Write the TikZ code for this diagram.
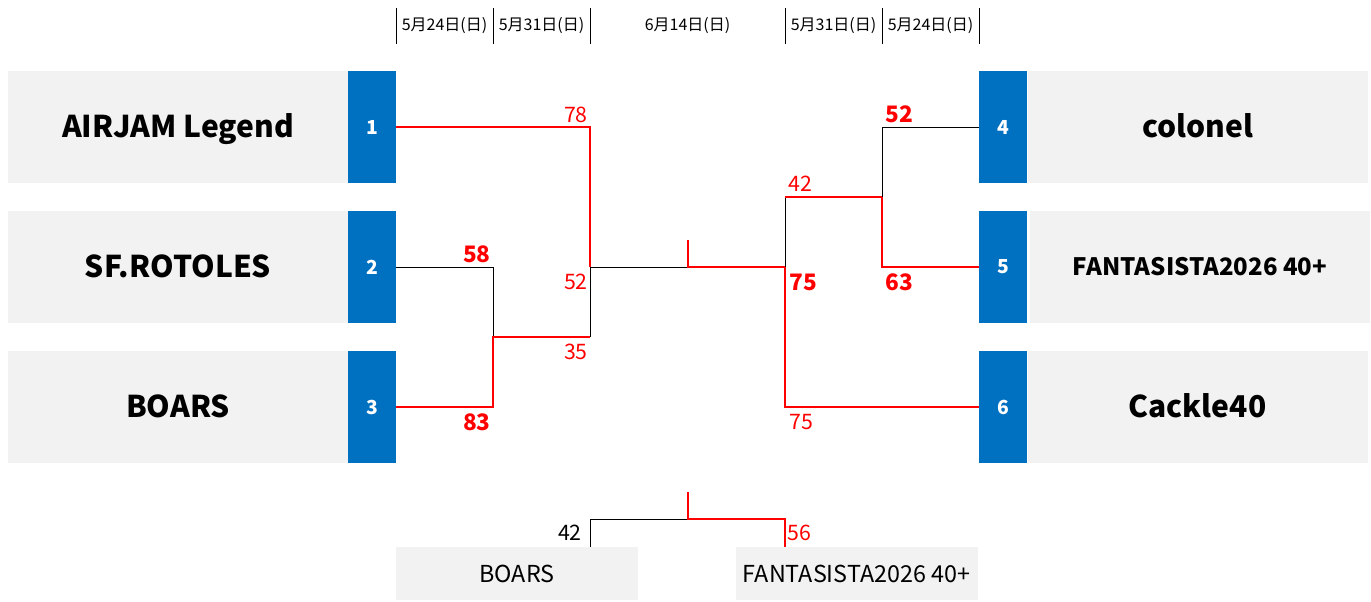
\documentclass[tikz,border=0pt]{standalone}
\usepackage{fontspec}
\setmainfont{Noto Sans CJK JP}
\usetikzlibrary{positioning,calc}
\definecolor{brgray}{HTML}{F2F2F2}
\definecolor{brblue}{HTML}{0070C0}
\definecolor{brred}{HTML}{FF0000}

\begin{document}
\begin{tikzpicture}[x=0.75pt, y=-0.75pt,
  teambox/.style={fill=brgray, minimum width=255pt, minimum height=84pt, inner sep=0pt, text height=16pt, text depth=0pt, font=\fontsize{22.5}{22.5}\selectfont\bfseries},
  seedbox/.style={fill=brblue, minimum width=36pt, minimum height=84pt, inner sep=0pt, text=white, font=\fontsize{14.5}{14.5}\selectfont\bfseries},
  thirdbox/.style={fill=brgray, minimum width=181.5pt, minimum height=39.75pt, inner sep=0pt, font=\fontsize{17.5}{17.5}\selectfont},
  datelabel/.style={font=\fontsize{12}{12}\selectfont},
  redline/.style={brred, line width=1.5pt},
  blackline/.style={black, line width=0.75pt},
  score/.style={text=brred, inner sep=0pt, font=\fontsize{16}{16}\selectfont},
  winscore/.style={score, font=\fontsize{17}{17}\selectfont\bfseries}]
\useasboundingbox (0,0) rectangle (1371,601);
% header
\foreach \x in {396,493,590,785,882,979}
  \draw[blackline] (\x,8) -- (\x,44);
\node[datelabel] (d1) at (444.5,26) {5月24日(日)};
\node[datelabel] (d2) at (541.5,26) {5月31日(日)};
\node[datelabel] (d3) at (687.5,26) {6月14日(日)};
\node[datelabel] (d4) at (833.5,26) {5月31日(日)};
\node[datelabel] (d5) at (930.5,26) {5月24日(日)};
% left teams
\node[teambox] (t1) at (178,127) {AIRJAM Legend};
\node[teambox] (t2) at (178,267) {SF.ROTOLES};
\node[teambox] (t3) at (178,407) {BOARS};
\node[seedbox] (s1) at (372,127) {1};
\node[seedbox] (s2) at (372,267) {2};
\node[seedbox] (s3) at (372,407) {3};
% right teams
\node[seedbox] (s4) at (1003,127) {4};
\node[seedbox] (s5) at (1003,267) {5};
\node[seedbox] (s6) at (1003,407) {6};
\node[teambox] (t4) at (1197.5,127) {colonel};
\node[teambox, text height=13pt, font=\fontsize{18}{18}\selectfont\bfseries] (t5) at (1200,267) {FANTASISTA2026 40+};
\node[teambox] (t6) at (1197.5,407) {Cackle40};
% junctions
\coordinate (L1) at (493,337);
\coordinate (L1b) at (590,337);
\coordinate (L2) at (590,267);
\coordinate (C) at (688,267);
\coordinate (Ctop) at (688,240);
\coordinate (R2) at (785,267);
\coordinate (R2b) at (785,197);
\coordinate (R1) at (882,197);
% left side
\draw[redline] (s1.east) -| (L2);
\draw[blackline] (s2.east) -| (L1);
\draw[redline] (s3.east) -| (L1) -- (L1b);
\draw[blackline] (L1b) -- (L2) -- (C);
\draw[redline] (Ctop) -- (C) -- (R2);
% right side
\draw[redline] (R2) |- (s6.west);
\draw[blackline] (R2) -- (R2b);
\draw[redline] (R2b) -- (R1);
\draw[blackline] (R1) |- (s4.west);
\draw[redline] (R1) |- (s5.west);
% scores
\node[score, anchor=east] (p78) at (588,115) {78};
\node[winscore, anchor=east] (p58) at (491,254) {58};
\node[winscore, anchor=east] (p83) at (491,422) {83};
\node[score, anchor=east] (p52) at (588,282) {52};
\node[score, anchor=east] (p35) at (588,352) {35};
\node[score, anchor=west] (q42) at (788,184) {42};
\node[winscore, anchor=west] (q52) at (885,114) {52};
\node[winscore, anchor=west] (q75) at (789,282) {75};
\node[winscore, anchor=west] (q63) at (885,282) {63};
\node[score, anchor=west] (q75b) at (789,422) {75};
% third place
\node[thirdbox] (b1) at (517,573.5) {BOARS};
\node[thirdbox] (b2) at (856.5,573.5) {FANTASISTA2026 40+};
\coordinate (TL) at (590,547);
\coordinate (TR) at (785,547);
\coordinate (T) at (688,519);
\coordinate (Ttop) at (688,492);
\draw[blackline] (TL) |- (T);
\draw[redline] (Ttop) -- (T) -| (TR);
\node[score, text=black, anchor=east] (r42) at (582,533) {42};
\node[score, anchor=west] (r56) at (787,533) {56};
\end{tikzpicture}
\end{document}
